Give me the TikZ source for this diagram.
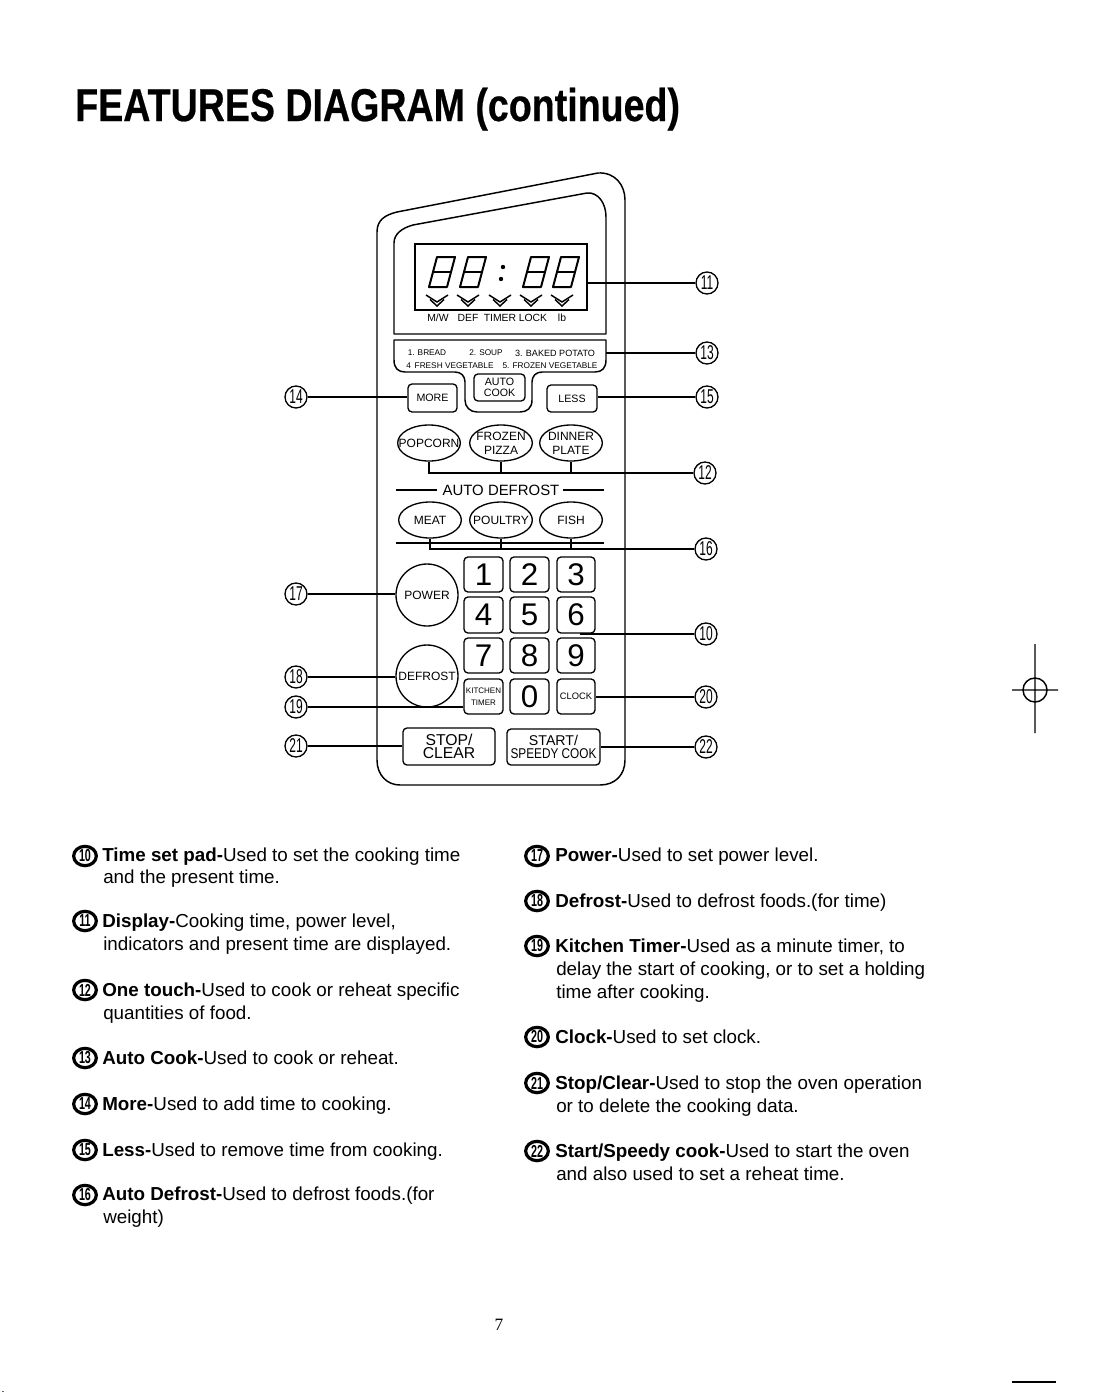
\documentclass[tikz,border=0pt]{standalone}
\usepackage{fontspec}
\setmainfont{Liberation Sans}
\newfontfamily\serifpg{Liberation Serif}
\newfontfamily\heavy[FakeBold=0.5]{Liberation Sans Bold}
\usetikzlibrary{shapes.geometric}
\newcommand{\fz}[1]{\fontsize{#1}{#1}\selectfont}
\tikzset{
  panel/.style={line width=1.1pt,line join=round},
  conn/.style={line width=1.1pt},
  thinconn/.style={line width=0.9pt},
  btnbox/.style={draw,line width=1pt,rounded corners=3pt,inner sep=0pt,align=center,font=\fz{8},text=black},
  numkey/.style={btnbox,font=\fz{23.5}},
  oval/.style={draw,ellipse,line width=1pt,inner sep=0pt,minimum width=47pt,minimum height=27pt},
  ovaltxt/.style={inner sep=0pt,align=center,font=\fz{9}},
  roundbtn/.style={draw,circle,line width=1pt,inner sep=0pt,minimum size=46.5pt},
  callout/.style={draw,circle,line width=1pt,fill=white,inner sep=0pt,minimum size=16.5pt,font=\fz{15}},
  bullet/.style={draw,ellipse,line width=2.4pt,inner sep=0pt,minimum width=17pt,minimum height=14.5pt,font=\fz{13}\bfseries},
  bodytext/.style={anchor=base west,inner sep=0pt,font=\fz{14.1}},
  tiny/.style={inner sep=0pt,font=\fz{7.8}},
  menutext/.style={inner sep=0pt,font=\fz{6.2}},
  seg/.style={line width=1.5pt,line join=round},
  chev/.style={line width=1.1pt},
  regmark/.style={line width=1.1pt}
}
\newcommand{\keybtn}[7][btnbox]{%
  \pgfmathsetmacro\kbw{(#5-#3)*0.75}\pgfmathsetmacro\kbh{(#6-#4)*0.75}%
  \node[#1,minimum width=\kbw pt,minimum height=\kbh pt] (#2) at ({(#3+#5)/2},{(#4+#6)/2}) {#7};}
\newcommand{\ovalbtn}[4]{%
  \node[oval] (#1) at (#2,#3) {};
  \node[ovaltxt] (#1t) at (#1.center) {#4};}
\newcommand{\roundkey}[4]{%
  \node[roundbtn] (#1) at (#2,#3) {};
  \node[ovaltxt] (#1t) at (#1.center) {#4};}
\newcommand{\segdigit}[1]{%
  \draw[seg] (#1,287) -- (#1+18,287) -- (#1+26,257) -- (#1+8,257) -- cycle;
  \draw[seg] (#1+4,272) -- (#1+22,272);}
\newcommand{\chevron}[1]{%
  \draw[chev] (#1-11,295) -- (#1,302) -- (#1+11,295);
  \draw[chev] (#1-7,299.5) -- (#1,306) -- (#1+7,299.5);}
\newcommand{\cnum}[4]{\node[callout] (#1) at (#2,#3) {\scalebox{0.6}[1]{#4}};}
\newcommand{\bnum}[4]{\node[bullet] (#1) at (#2,#3) {\scalebox{0.62}[1]{#4}};}
\begin{document}
\begin{tikzpicture}[x=0.75pt,y=-0.75pt]
\useasboundingbox (0,0) rectangle (1094,1392);
% title
\node[anchor=base west,inner sep=0pt,font=\fz{34.5}\heavy] (title) at (75,121) {\scalebox{0.817}[1]{FEATURES DIAGRAM (continued)}};
% outer panel
\draw[panel] (377,760) -- (377,232) .. controls (377,220) and (385,215) .. (397,212) -- (598,173) .. controls (615,172) and (625,185) .. (625,200) -- (625,760) .. controls (625,775) and (615,785) .. (600,785) -- (400,785) .. controls (387,785) and (377,775) .. (377,760);
% display frame
\draw[panel] (394,334) -- (394,243) .. controls (394,234) and (402,228) .. (413,225) -- (587,193) .. controls (598,192) and (606,203) .. (606,217) -- (606,334) -- cycle;
\node[draw,line width=1pt,inner sep=0pt,minimum width=129pt,minimum height=49.5pt] (display) at (501,277) {};
\segdigit{429}\segdigit{460}\segdigit{523}\segdigit{553}
\fill (503,267) circle[radius=2.2] (501,279) circle[radius=2.2];
\chevron{437}\chevron{468}\chevron{500}\chevron{531}\chevron{562}
\node[tiny] (lmw) at (438,318) {M/W};
\node[tiny] (ldef) at (468,318) {DEF};
\node[tiny] (ltimer) at (500,318) {TIMER};
\node[tiny] (llock) at (533,318) {LOCK};
\node[tiny] (llb) at (562,318) {lb};
% menu frame
\draw[panel] (394,340) -- (606,340) -- (606,360) .. controls (606,368) and (602,372) .. (595,372) -- (542,372) .. controls (536,372) and (532,376) .. (532,382) -- (532,400) .. controls (532,408) and (527,412) .. (520,412) -- (477,412) .. controls (470,412) and (465,407) .. (465,400) -- (465,382) .. controls (465,376) and (461,372) .. (455,372) -- (405,372) .. controls (398,372) and (394,368) .. (394,360) -- cycle;
\node[menutext] (m1) at (427,353) {1. BREAD};
\node[menutext] (m2) at (486,353) {2. SOUP};
\node[menutext,font=\fz{6.8}] (m3) at (555,353) {3. BAKED POTATO};
\node[menutext] (m4) at (450,366) {4\, FRESH VEGETABLE};
\node[menutext] (m5) at (550,366) {5. FROZEN VEGETABLE};
\keybtn{autocook}{474}{374}{525}{401}{AUTO\\[0.6pt]COOK}
\keybtn{more}{408}{384}{457}{412}{MORE}
\keybtn{less}{547}{385}{597}{412}{LESS}
% one touch
\ovalbtn{popcorn}{429}{443}{POPCORN}
\ovalbtn{pizza}{501}{443}{FROZEN\\[1.5pt]PIZZA}
\ovalbtn{dinner}{571}{443}{DINNER\\[1.5pt]PLATE}
% auto defrost
\node[inner sep=0pt,font=\fz{11.2}] (adef) at (501,490) {AUTO DEFROST};
\coordinate (al1) at (396,490); \coordinate (al2) at (437,490);
\coordinate (al3) at (563,490); \coordinate (al4) at (604,490);
\draw[conn] (al1) -- (al2) (al3) -- (al4);
\ovalbtn{meat}{430}{520}{MEAT}
\ovalbtn{poultry}{501}{520}{POULTRY}
\ovalbtn{fish}{571}{520}{FISH}
\coordinate (bl1) at (396,543); \coordinate (bl2) at (604,543);
\draw[thinconn] (bl1) -- (bl2);
% round
\roundkey{power}{427}{595}{POWER}
\roundkey{defrost}{427}{676}{DEFROST}
% keypad
\keybtn[numkey]{k1}{464}{557}{503}{592}{1}
\keybtn[numkey]{k2}{510}{557}{549}{592}{2}
\keybtn[numkey]{k3}{557}{557}{595}{592}{3}
\keybtn[numkey]{k4}{464}{597}{503}{633}{4}
\keybtn[numkey]{k5}{510}{597}{549}{633}{5}
\keybtn[numkey]{k6}{557}{597}{595}{633}{6}
\keybtn[numkey]{k7}{464}{638}{503}{673}{7}
\keybtn[numkey]{k8}{510}{638}{549}{673}{8}
\keybtn[numkey]{k9}{557}{638}{595}{673}{9}
\keybtn[btnbox,font=\fz{6}]{kitchen}{464}{679}{503}{714}{KITCHEN\\[2.8pt]TIMER}
\keybtn[numkey]{k0}{510}{679}{549}{714}{0}
\keybtn[btnbox,font=\fz{7}]{clock}{557}{679}{595}{714}{CLOCK}
\keybtn[btnbox,font=\fz{11.8}]{stop}{403}{728}{495}{765}{STOP/\\[-2pt]CLEAR}
\keybtn[btnbox,font=\fz{11.8}]{start}{507}{729}{600}{765}{\scalebox{0.9}{START/}\\[-2pt]\scalebox{0.75}[0.9]{SPEEDY COOK}}
% callouts
\cnum{c11}{707}{283}{11}
\cnum{c13}{707}{353}{13}
\cnum{c15}{707}{397}{15}
\cnum{c12}{705}{473}{12}
\cnum{c16}{706}{549}{16}
\cnum{c10}{706}{634}{10}
\cnum{c20}{706}{697}{20}
\cnum{c22}{706}{747}{22}
\cnum{c14}{296}{397}{14}
\cnum{c17}{296}{594}{17}
\cnum{c18}{296}{677}{18}
\cnum{c19}{296}{707}{19}
\cnum{c21}{296}{746}{21}
\draw[conn] (c11.west) -- (display.east |- c11);
\draw[conn] (c13.west) -- (606,353);
\draw[conn] (c15.west) -- (less.east |- c15);
\draw[conn] (c14.east) -- (more.west |- c14);
\draw[conn] (c12.west) -- (popcorn.south |- c12) -- (popcorn.south);
\draw[conn] (pizza.south |- c12) -- (pizza.south);
\draw[conn] (dinner.south |- c12) -- (dinner.south);
\draw[conn] (c16.west) -- (meat.south |- c16) -- (meat.south);
\draw[conn] (poultry.south |- c16) -- (poultry.south);
\draw[conn] (fish.south |- c16) -- (fish.south);
\draw[conn] (c10.west) -- (580,634);
\draw[conn] (c20.west) -- (clock.east |- c20);
\draw[conn] (c22.west) -- (start.east |- c22);
\draw[conn] (c17.east) -- (power.west |- c17);
\draw[conn] (c18.east) -- (defrost.west |- c18);
\draw[conn] (c19.east) -- (kitchen.west |- c19);
\draw[conn] (c21.east) -- (stop.west |- c21);
% left column
\bnum{b10}{85}{856}{10}
\node[bodytext] (t10a) at (102,861) {\textbf{Time set pad-}Used to set the cooking time};
\node[bodytext] (t10b) at (103,883) {and the present time.};
\bnum{b11}{85}{921}{11}
\node[bodytext] (t11a) at (102,927) {\textbf{Display-}Cooking time, power level,};
\node[bodytext] (t11b) at (103,950) {indicators and present time are displayed.};
\bnum{b12}{85}{990}{12}
\node[bodytext] (t12a) at (102,996) {\textbf{One touch-}Used to cook or reheat specific};
\node[bodytext] (t12b) at (103,1019) {quantities of food.};
\bnum{b13}{85}{1058}{13}
\node[bodytext] (t13a) at (102,1064) {\textbf{Auto Cook-}Used to cook or reheat.};
\bnum{b14}{85}{1104}{14}
\node[bodytext] (t14a) at (102,1110) {\textbf{More-}Used to add time to cooking.};
\bnum{b15}{85}{1150}{15}
\node[bodytext] (t15a) at (102,1156) {\textbf{Less-}Used to remove time from cooking.};
\bnum{b16}{85}{1195}{16}
\node[bodytext] (t16a) at (102,1200) {\textbf{Auto Defrost-}Used to defrost foods.(for};
\node[bodytext] (t16b) at (103,1223) {weight)};
% right column
\bnum{b17}{537}{856}{17}
\node[bodytext] (t17a) at (555,861) {\textbf{Power-}Used to set power level.};
\bnum{b18}{537}{901}{18}
\node[bodytext] (t18a) at (555,907) {\textbf{Defrost-}Used to defrost foods.(for time)};
\bnum{b19}{537}{946}{19}
\node[bodytext] (t19a) at (555,952) {\textbf{Kitchen Timer-}Used as a minute timer, to};
\node[bodytext] (t19b) at (556,975) {delay the start of cooking, or to set a holding};
\node[bodytext] (t19c) at (556,998) {time after cooking.};
\bnum{b20}{537}{1037}{20}
\node[bodytext] (t20a) at (555,1043) {\textbf{Clock-}Used to set clock.};
\bnum{b21}{537}{1083}{21}
\node[bodytext] (t21a) at (555,1089) {\textbf{Stop/Clear-}Used to stop the oven operation};
\node[bodytext] (t21b) at (556,1112) {or to delete the cooking data.};
\bnum{b22}{537}{1151}{22}
\node[bodytext] (t22a) at (555,1157) {\textbf{Start/Speedy cook-}Used to start the oven};
\node[bodytext] (t22b) at (556,1180) {and also used to set a reheat time.};
% page number
\node[inner sep=0pt,font=\fz{13}\serifpg] (pg) at (499,1325) {7};
% registration mark
\draw[regmark] (1035,644) -- (1035,733) (1012,690) -- (1058,690) (1035,690) circle[radius=12];
\draw[regmark] (1012,1382) -- (1056,1382);
\fill[black!60] (2,1390.5) rectangle (4,1392);
\end{tikzpicture}
\end{document}
